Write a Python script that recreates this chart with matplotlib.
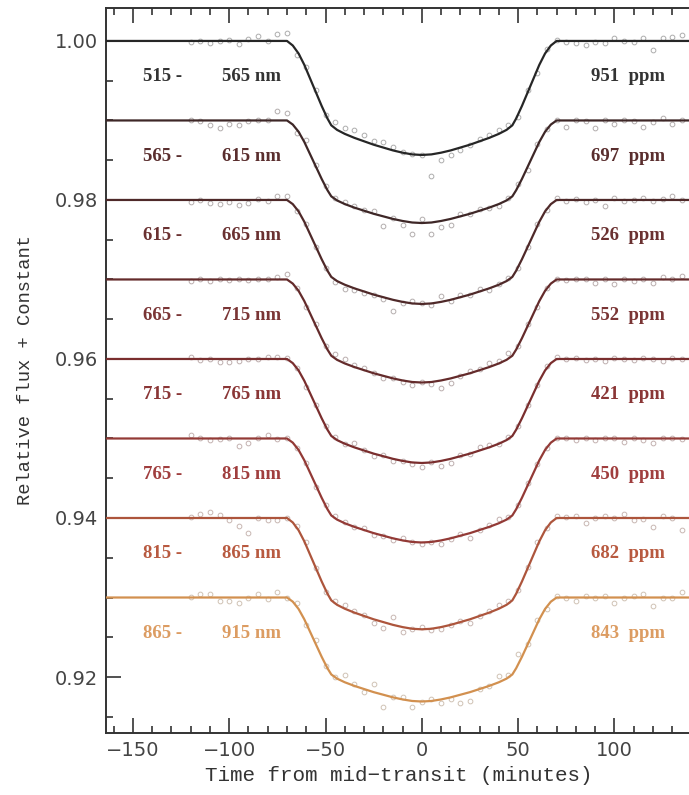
import numpy as np
import matplotlib
matplotlib.use("Agg")
import matplotlib.pyplot as plt
from matplotlib.ticker import MultipleLocator, FormatStrFormatter
from matplotlib.colors import to_rgb

# Data =================================================
band_lo = [515, 565, 615, 665, 715, 765, 815, 865]
band_hi = [565, 615, 665, 715, 765, 815, 865, 915]
rms_ppm = [951, 697, 526, 552, 421, 450, 682, 843]
baselines = [1.00, 0.99, 0.98, 0.97, 0.96, 0.95, 0.94, 0.93]
depths = [0.01434, 0.01290, 0.01308, 0.01296, 0.01308, 0.01308, 0.01400, 0.01308]

# transit shape (fraction of full depth)
shape_t = [-170, -70, -67, -64, -61, -58, -55, -52, -49, -47, -44, -40, -35, -30, -25, -20, -15, -10, -5, 0,
           5, 10, 15, 20, 25, 30, 35, 40, 44, 47, 49, 52, 55, 58, 61, 64, 67, 70, 170]
shape_f = [0, 0, 0.04, 0.11, 0.21, 0.33, 0.45, 0.57, 0.68, 0.74, 0.78, 0.815, 0.85, 0.88, 0.91, 0.935, 0.96, 0.98, 0.995, 1.0,
           0.995, 0.98, 0.96, 0.935, 0.91, 0.88, 0.85, 0.815, 0.78, 0.74, 0.68, 0.57, 0.45, 0.33, 0.21, 0.11, 0.04, 0, 0]

# observation times (minutes) and residuals from the model (ppm), one row per band
obs_t = list(range(-120, 140, 5))
resid = [
    [-100, 0, -250, 0, 100, -400, 250, 600, 0, 900, 1000, -500, 250,
     250, -100, 750, 750, 1000, 750, 500, 750, 400, 100, 0, 0, -2750,
     -900, -600, -250, 0, 250, 400, 500, 400, -400, 250, -500, 250, 100,
     -100, -250, -500, -100, -250, 400, 0, -100, 400, -1200, 400, 500, 750],
    [0, -100, -600, -900, -400, -600, -100, 0, 100, 1250, 900, -400, 750,
     250, 0, 100, 250, 250, 100, 400, -1250, 100, -500, -1400, 500, -1400,
     -750, -750, 250, 0, 250, 0, -250, 100, 250, -400, 250, 0, 100,
     -800, 100, -100, -900, 0, -500, 0, -100, -800, -250, 250, -400, 100],
    [-250, 0, -400, -500, -250, -600, -400, 100, -100, 500, 500, -250, 250,
     0, -100, -250, -500, -250, -250, 0, -250, -1400, -100, 250, 100, -250,
     750, -100, 250, 0, 250, -250, 100, 250, -100, 0, 250, -100, 250,
     -100, 100, -250, 0, -750, 250, -100, 0, 250, -100, 100, 500, 0],
    [-250, 100, -250, 0, -100, 100, -100, 0, 100, 250, 750, 0, -250,
     250, 0, 500, 500, 250, 250, 0, -250, 0, -250, -400, 100, -250,
     -900, -600, 0, 250, 100, 500, 250, 750, 0, 250, -250, 0, 100,
     -100, 100, 0, -400, 0, -600, 100, -250, 0, -500, 250, 0, 400],
    [250, -100, 0, -400, -400, -250, 0, 0, 250, 250, 100, 0, -250,
     100, 0, 250, 0, 500, 0, -250, 100, -250, 0, -250, -500, 0,
     -600, -500, 100, 0, 500, 250, 0, 250, 0, 100, 0, 250, 250,
     0, 100, -100, 0, -250, 100, 0, -100, 100, 0, -250, 100, 0],
    [500, 0, -250, -100, 0, -900, -600, 0, 500, -100, 100, 0, 250,
     -250, 0, 250, 100, 0, 250, -250, 0, -250, 250, 0, -250, 0,
     -400, -100, 250, -600, 0, 250, 500, 100, 0, 250, 0, -100, 100,
     0, -250, 0, -250, 100, 0, -400, 100, -250, -600, 0, 100, -100],
    [100, 500, 750, 400, -250, -1000, -1900, 0, -250, -250, 0, 250, 500,
     0, -250, 250, 500, 250, 100, -500, -750, 1000, -600, 0, 250, -100,
     -250, 0, 100, -500, 0, 250, 500, 250, 0, 100, 500, 0, 250,
     100, 250, -600, 0, 250, 0, 500, -250, -100, -1100, 250, 0, -1500],
    [100, 500, 400, -500, -400, -750, 0, 500, -250, 750, 0, 400, -250,
     500, -250, 0, 900, 250, -400, 1000, -1500, 100, 250, -750, 0, 250,
     -400, -250, -1000, -1100, 0, 0, 750, 250, 1250, 0, 500, -250, 250,
     0, -500, 250, -100, 250, -750, -100, 250, 500, -1100, 0, 0, 750],
]
colors = ["#262626", "#3e2727", "#4f2929", "#642b2b", "#7a2e2e", "#933a36", "#ad553c", "#d2904f"]
text_colors = ["#333333", "#5a2e2e", "#6a3131", "#7a3535", "#8a3636", "#a03e3e", "#b85a40", "#dc9c62"]

# Plot =================================================
fig = plt.figure(figsize=(6.89, 7.95), dpi=100)
ax = fig.add_axes([0.1538, 0.078, 0.8665, 0.912])

shape_t = np.array(shape_t)
shape_f = np.array(shape_f)
obs_t = np.array(obs_t)
lbl_font = dict(fontsize=13.5, family='Liberation Serif', weight='bold', va='center')

for i in range(len(band_lo)):
    model = baselines[i] - depths[i] * shape_f
    # model value at each observation time, read from the same shape
    obs_model = baselines[i] - depths[i] * np.interp(obs_t, shape_t, shape_f)
    obs_flux = obs_model + np.array(resid[i]) * 1e-6
    pc = 0.2 * np.array(to_rgb(colors[i])) + 0.8 * np.array(to_rgb("#cfcfcf"))
    ax.plot(obs_t, obs_flux, 'o', ms=3.4, mfc='none', mec=pc, mew=0.7, zorder=2)
    ax.plot(shape_t, model, '-', color=colors[i], lw=1.6, zorder=3)
    ymid = baselines[i] - 0.0045
    ax.text(-145, ymid, f"{band_lo[i]} -", color=text_colors[i], ha='left', **lbl_font)
    ax.text(-73, ymid, f"{band_hi[i]} nm", color=text_colors[i], ha='right', **lbl_font)
    ax.text(107, ymid, f"{rms_ppm[i]}  ppm", color=text_colors[i], ha='center', **lbl_font)

ax.set_xlim(-164, 146)
ax.set_ylim(0.91296, 1.00415)
ax.xaxis.set_major_locator(MultipleLocator(50))
ax.xaxis.set_minor_locator(MultipleLocator(10))
ax.yaxis.set_major_locator(MultipleLocator(0.02))
ax.yaxis.set_minor_locator(MultipleLocator(0.005))
ax.yaxis.set_major_formatter(FormatStrFormatter('%.2f'))
ax.tick_params(which='both', direction='in', top=True, right=False, colors='#333333',
               labelsize=14, width=1.2)
ax.tick_params(which='major', length=11, pad=6)
ax.tick_params(which='minor', length=5)
for lbl in ax.get_xticklabels() + ax.get_yticklabels():
    lbl.set_color('#444444')
for s in ax.spines.values():
    s.set_color('#333333')
    s.set_linewidth(1.4)
ax.spines['right'].set_visible(False)

ax.set_xlabel("Time from mid\u2212transit (minutes)", fontsize=15, family='Liberation Mono',
              color='#333333', labelpad=3)
ax.xaxis.set_label_coords(0.49, -0.045)
ax.set_ylabel("Relative flux + Constant", fontsize=13.5, family='Liberation Mono',
              color='#333333', labelpad=15)

fig.savefig("out.png", dpi=100)
